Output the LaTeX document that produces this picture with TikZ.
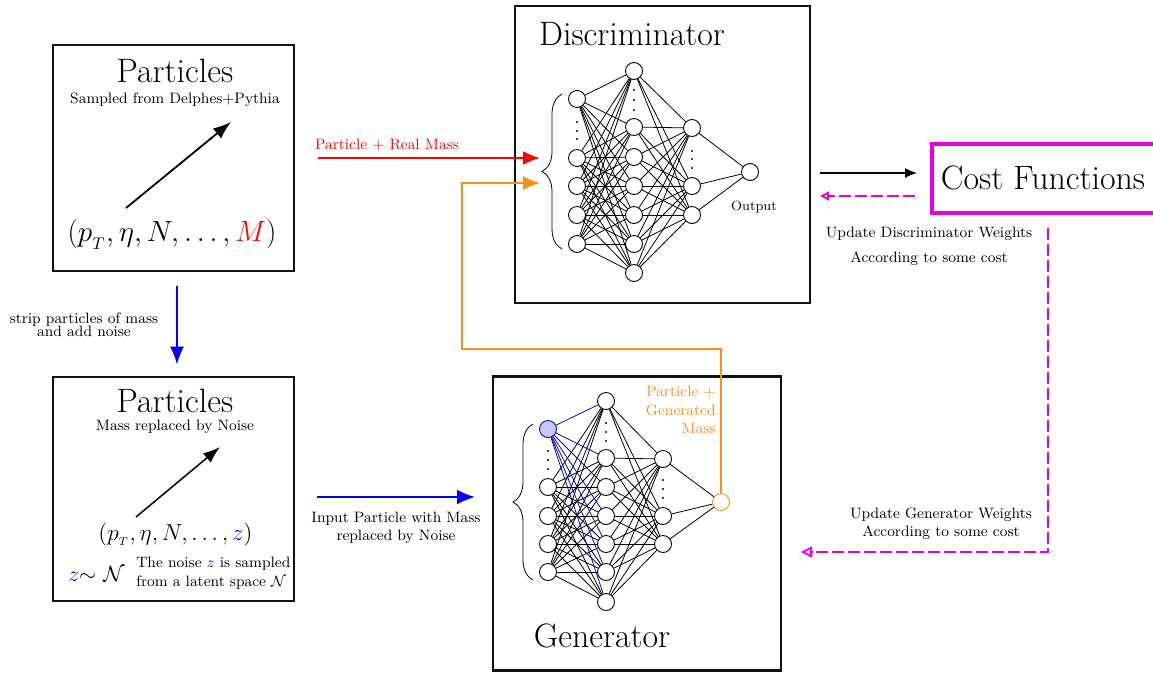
\documentclass[tikz,border=0pt]{standalone}
\usetikzlibrary{arrows.meta,decorations.pathreplacing,calc}
\definecolor{boxc}{RGB}{12,22,12}
\definecolor{mag}{RGB}{230,0,230}
\definecolor{orng}{RGB}{247,142,30}
\definecolor{lblue}{RGB}{200,200,250}
\definecolor{nblue}{RGB}{10,10,180}
\begin{document}
\begin{tikzpicture}[x=1pt,y=-1pt,
  frame/.style={draw=boxc, line width=2.8pt, inner sep=0pt},
  ttl/.style={font=\LARGE, scale=1.96, anchor=base, inner sep=0pt},
  sml/.style={font=\small, scale=1.67, inner sep=0pt},
  neuron/.style={circle, draw, fill=white, minimum size=17pt, inner sep=0pt, line width=0.9pt},
  conn/.style={line width=0.8pt},
  bconn/.style={line width=0.8pt, draw=nblue},
  partarrow/.style={line width=1.8pt, -{Latex[length=18pt,width=13pt]}},
  magd/.style={draw=mag, line width=1.8pt, dash pattern=on 12pt off 4pt},
  brc/.style={decorate, decoration={brace, amplitude=20pt}, line width=0.8pt}
]
\useasboundingbox (0,0) rectangle (1153,673);

% ---------- frames
\node[frame, minimum width=241pt, minimum height=226pt] (p1) at (173.5,158) {};
\node[frame, minimum width=241pt, minimum height=224pt] (p2) at (173.5,489) {};
\node[frame, minimum width=295pt, minimum height=297pt] (disc) at (662.5,154.5) {};
\node[frame, minimum width=288pt, minimum height=294pt] (gen) at (637,523.5) {};
\node[draw=mag, line width=3.5pt, minimum width=240pt, minimum height=69pt, anchor=west, inner sep=0pt] (cost) at (930,178.5) {};

% ---------- particle box 1
\node[ttl] (p1t) at (175,82) {Particles};
\node[sml, anchor=base] (p1s) at (175,103) {Sampled from Delphes+Pythia};
\node[font=\LARGE, scale=1.69, anchor=base, inner sep=0pt] (p1m) at (172,241) {$(p_{_T},\eta,N,\ldots,\textcolor{red}{M})$};
\coordinate (a1s) at (126,208);
\coordinate (a1e) at (231,122);
\draw[partarrow] (a1s) -- (a1e);

% ---------- particle box 2
\node[ttl] (p2t) at (175,412) {Particles};
\node[sml, anchor=base] (p2s) at (175,430) {Mass replaced by Noise};
\node[font=\Large, scale=1.61, anchor=base, inner sep=0pt] (p2m) at (175.5,540) {$(p_{_T},\eta,N,\ldots,\textcolor{blue}{z})$};
\node[font=\Large, scale=1.52, anchor=base west, inner sep=0pt] (zN) at (68,581) {$\textcolor{blue}{z}{\sim}\ \mathcal{N}$};
\node[sml, anchor=north west, align=left] (noise) at (136,557) {The noise $\textcolor{blue}{z}$ is sampled\\from a latent space $\mathcal{N}$};
\coordinate (a2s) at (136,517);
\coordinate (a2e) at (220,447);
\draw[line width=1.5pt, -{Latex[length=17pt,width=12pt]}] (a2s) -- (a2e);

% ---------- strip arrow
\draw[blue, line width=2pt, -{Latex[length=18pt,width=14pt]}, shorten <=14pt, shorten >=11pt]
  ([xshift=3.5pt]p1.south) -- ([xshift=3.5pt]p2.north);
\node[font=\fontsize{9}{8}\selectfont, scale=1.67, inner sep=0pt, align=center] (strip) at (84,324.5) {strip particles of mass\\and add noise};

% ---------- titles
\node[ttl] (dt) at (632,45) {Discriminator};
\node[ttl] (gt) at (602,647) {Generator};
\node[ttl] (ct) at (1043,189) {Cost Functions};

% ---------- discriminator network
\foreach \i/\y in {1/99,2/158,3/186,4/215,5/244} \node[neuron] (di\i) at (577,\y) {};
\foreach \i/\y in {1/71,2/127,3/157,4/186,5/215,6/244,7/273} \node[neuron] (dh\i) at (634,\y) {};
\foreach \i/\y in {1/128,2/186,3/215} \node[neuron] (dk\i) at (692,\y) {};
\node[neuron] (do) at (750,172) {};
\foreach \i in {1,...,5} \foreach \j in {1,...,7} \draw[conn] (di\i) -- (dh\j);
\foreach \i in {1,...,7} \foreach \j in {1,...,3} \draw[conn] (dh\i) -- (dk\j);
\foreach \j in {1,...,3} \draw[conn] (dk\j) -- (do);
\foreach \y in {122,131,139} \fill (577,\y) circle (1.2pt);
\foreach \y in {90,100,110} \fill (634,\y) circle (1.2pt);
\foreach \y in {151,159,168} \fill (692,\y) circle (1.2pt);
\draw[brc] (562,249) -- (562,94);
\node[font=\footnotesize, scale=1.67, anchor=base, inner sep=0pt] (outl) at (754,210) {Output};

% ---------- generator network
\node[neuron, draw=nblue, fill=lblue] (gi1) at (548,429) {};
\foreach \i/\y in {2/487,3/516,4/544,5/572} \node[neuron] (gi\i) at (548,\y) {};
\foreach \i/\y in {1/401,2/458,3/487,4/516,5/544,6/572,7/602} \node[neuron] (gh\i) at (606,\y) {};
\foreach \i/\y in {1/459,2/516,3/544} \node[neuron] (gk\i) at (663,\y) {};
\node[neuron, draw=orng] (go) at (721,502) {};
\foreach \i in {2,...,5} \foreach \j in {1,...,7} \draw[conn] (gi\i) -- (gh\j);
\foreach \j in {1,...,7} \draw[bconn] (gi1) -- (gh\j);
\foreach \i in {1,...,7} \foreach \j in {1,...,3} \draw[conn] (gh\i) -- (gk\j);
\foreach \j in {1,...,3} \draw[conn] (gk\j) -- (go);
\foreach \y in {451,460,469} \fill (548,\y) circle (1.2pt);
\foreach \y in {423,432,441} \fill (606,\y) circle (1.2pt);
\foreach \y in {480,489,498} \fill (663,\y) circle (1.2pt);
\draw[brc] (533,580) -- (533,424);
\node[sml, align=right, anchor=north east, text=orng] (genl) at (716,386) {Particle +\\Generated\\Mass};

% ---------- input arrows
\coordinate (rE) at (540,158);
\draw[red, line width=2pt, -{Latex[length=17pt,width=14pt]}, shorten <=23pt] (p1.east) -- (rE);
\node[sml, anchor=base, text=red] (rl) at (387,149) {Particle + Real Mass};

\coordinate (oE) at (540,183);
\coordinate (oL) at (462,349);
\draw[orng, line width=1.6pt, -{Latex[length=17pt,width=14pt]}] (go.north) |- (oL) |- (oE);

\coordinate (bS) at (317,497);
\coordinate (bE) at (475,497);
\draw[blue, line width=2pt, -{Latex[length=18pt,width=15pt]}] (bS) -- (bE);
\node[sml, align=center] (bl) at (396,528) {Input Particle with Mass\\replaced by Noise};

% ---------- cost arrows
\coordinate (cS) at (820,173);
\draw[line width=1.2pt, -{Latex[length=12pt,width=10pt]}, shorten >=13pt] (cS) -- (cS -| cost.west);
\coordinate (cM) at (820,196);
\draw[magd, -{Triangle[open,length=9pt,width=9pt]}, shorten <=15pt] (cost.west |- cM) -- (cM);
\node[sml, anchor=base] (ud) at (929,237) {Update Discriminator Weights};
\node[sml, anchor=base] (ud2) at (929,262) {According to some cost};

\coordinate (mU) at (1048,228);
\coordinate (mE) at (801,552);
\draw[magd, -{Triangle[open,length=11pt,width=11pt]}] (mU) |- (mE);
\node[sml, align=center] (ug) at (941,524) {Update Generator Weights\\According to some cost};
\end{tikzpicture}
\end{document}
